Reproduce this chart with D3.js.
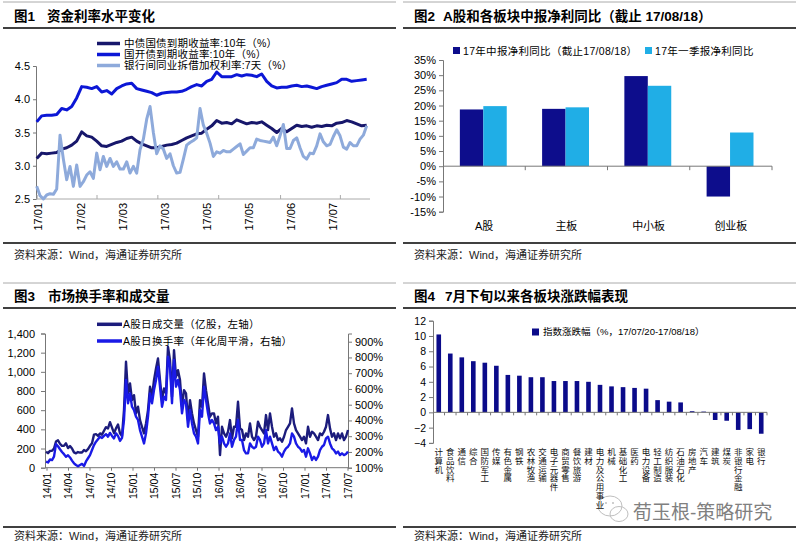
<!DOCTYPE html>
<html><head><meta charset="utf-8">
<script src="https://cdn.jsdelivr.net/npm/d3@7"></script>
<style>
body{margin:0;background:#fff;}
svg{display:block;}
text{font-family:"Liberation Sans","Noto Sans CJK SC",sans-serif;fill:#000;}
</style></head><body>
<svg id="c" width="798" height="545"></svg>
<script>
// ---------- Panel 1 data ----------
const p1Names = ["中债国债到期收益率:10年（%）","国开债到期收益率:10年（%）","银行间同业拆借加权利率:7天（%）"];
const p1TickLabels = ["17/01","17/02","17/03","17/03","17/05","17/05","17/06","17/07"];
const govYield = [3.11,3.19,3.18,3.19,3.2,3.25,3.27,3.31,3.37,3.51,3.45,3.43,3.37,3.3,3.29,3.32,3.35,3.37,3.41,3.43,3.37,3.33,3.3,3.27,3.27,3.29,3.31,3.32,3.34,3.38,3.42,3.45,3.48,3.49,3.55,3.6,3.68,3.64,3.65,3.63,3.69,3.66,3.63,3.65,3.64,3.66,3.61,3.56,3.5,3.56,3.51,3.56,3.61,3.59,3.6,3.58,3.6,3.59,3.61,3.6,3.64,3.65,3.68,3.66,3.63,3.6,3.61];
const cdbYield = [3.66,3.75,3.76,3.76,3.77,3.86,3.84,3.89,4.02,4.19,4.18,4.16,4.19,4.11,4.13,4.08,4.16,4.2,4.23,4.24,4.16,4.14,4.12,4.1,4.06,4.09,4.1,4.11,4.11,4.12,4.15,4.19,4.22,4.2,4.27,4.3,4.41,4.34,4.34,4.34,4.37,4.35,4.37,4.36,4.34,4.38,4.27,4.2,4.17,4.18,4.18,4.2,4.21,4.19,4.2,4.18,4.16,4.19,4.21,4.23,4.25,4.3,4.3,4.27,4.28,4.29,4.3];
const interbank7d = [2.69,2.55,2.5,2.56,2.58,2.57,2.65,3.46,3.1,2.79,2.99,2.69,3.01,2.69,2.76,2.86,2.91,2.81,3.19,2.94,3.14,2.99,3.11,2.99,3.06,2.95,2.95,3.06,2.89,2.99,2.89,3.24,3.4,3.7,3.89,3.5,3.18,3.3,3.25,3.11,3.18,3.0,2.89,2.9,3.1,3.31,3.35,3.38,3.42,3.86,3.61,3.49,3.34,3.14,3.21,3.19,3.23,3.21,3.21,3.25,3.29,3.33,3.17,3.22,3.27,3.27,3.4,3.38,3.37,3.36,3.35,3.43,3.3,3.45,3.62,3.26,3.26,3.38,3.42,3.27,3.14,3.1,3.19,3.18,3.3,3.48,3.36,3.3,3.32,3.44,3.54,3.45,3.28,3.25,3.35,3.3,3.3,3.4,3.46,3.6];

// ---------- Panel 2 data ----------
const p2Cats = ["A股","主板","中小板","创业板"];
const p2Names = ["17年中报净利同比（截止17/08/18）","17年一季报净利同比"];
const p2Mid = [18.7, 18.9, 29.7, -10.0];
const p2Q1 = [19.8, 19.4, 26.5, 11.1];

// ---------- Panel 3 data ----------
const p3Names = ["A股日成交量（亿股，左轴）","A股日换手率（年化周平滑，右轴）"];
const p3TickLabels = ["14/01","14/04","14/07","14/10","15/01","15/04","15/07","15/10","16/01","16/04","16/07","16/10","17/01","17/04","17/07"];
const volume = [167,152,175,176,200,273,286,250,228,228,254,205,226,200,160,150,163,158,158,184,172,193,228,254,345,350,332,358,345,385,423,410,475,418,360,410,450,360,330,
601,1105,775,879,705,757,566,636,497,427,358,462,601,844,740,914,1035,1139,914,705,827,775,1261,1122,740,1226,948,1018,914,636,809,775,497,705,566,462,393,323,705,636,983,809,670,532,566,566,462,532,132,427,358,323,375,497,306,427,427,688,410,393,288,358,323,462,323,288,323,479,427,393,358,549,393,566,427,323,358,288,306,271,323,393,427,462,618,462,393,358,323,288,323,254,427,323,375,358,323,288,358,340,375,427,549,410,323,358,288,358,306,358,288,323,393];
const turnover = [138,133,152,148,170,250,236,217,200,186,170,179,165,145,128,117,109,117,124,111,140,160,180,212,244,265,281,297,289,302,313,297,321,302,286,318,302,270,290,
403,657,509,572,487,466,424,403,339,297,254,318,424,572,509,593,657,741,614,487,551,530,805,741,509,784,614,657,593,445,530,509,360,466,381,318,297,254,466,424,614,530,445,381,403,381,339,360,254,297,254,233,254,318,233,276,297,403,276,276,212,191,191,254,233,223,233,297,276,233,254,339,254,297,254,212,233,202,191,170,202,223,233,254,318,297,254,233,223,202,212,170,223,191,149,170,149,170,212,233,244,286,297,254,223,212,191,202,180,191,180,187,202];

// ---------- Panel 4 data ----------
const p4Name = "指数涨跌幅（%，17/07/20-17/08/18）";
const p4Cats = ["计算机","食品饮料","通信","综合","国防军工","传媒","有色金属","钢铁","农林牧渔","交通运输","电子元器件","商贸零售","餐饮旅游","建材","电力及公用事业","机械","基础化工","医药","电力设备","轻工制造","纺织服装","石油石化","房地产","汽车","建筑","煤炭","非银行金融","家电","银行"];
const p4Vals = [10.2,7.7,7.2,6.7,6.5,6.1,4.9,4.8,4.6,4.6,4.1,4.1,4.1,4.0,3.6,3.4,3.3,3.2,3.1,1.6,1.4,1.3,0.15,0.1,-1.0,-1.1,-2.3,-2.2,-2.8];

const svg = d3.select("#c");
const AX = "#777";

function frame(x0, x1, yTop, yTitle, yRule, yBot, ySrc, num, title, titleX) {
  svg.append("line").attr("x1",x0).attr("x2",x1).attr("y1",yTop).attr("y2",yTop).attr("stroke","#aaa").attr("stroke-width",1);
  svg.append("text").attr("x",x0+11).attr("y",yTitle).text(num).style("font-weight","bold").style("font-size","13.5px");
  svg.append("text").attr("x",titleX).attr("y",yTitle).text(title).style("font-weight","bold").style("font-size","13.5px");
  svg.append("line").attr("x1",x0).attr("x2",x1).attr("y1",yRule).attr("y2",yRule).attr("stroke","#000").attr("stroke-width",1.5);
  svg.append("line").attr("x1",x0).attr("x2",x1).attr("y1",yBot).attr("y2",yBot).attr("stroke","#000").attr("stroke-width",1.5);
  svg.append("text").attr("x",x0+11).attr("y",ySrc).text("资料来源：Wind，海通证券研究所").style("font-size","11px").style("fill","#222");
}
function styleAxis(g, fs){
  g.select(".domain").attr("stroke",AX);
  g.selectAll(".tick line").attr("stroke",AX);
  g.selectAll("text").style("font-size",fs).style("fill","#000");
}

frame(3, 396, 2, 21, 28, 243, 259, "图1", "资金利率水平变化", 47);
frame(403, 796, 2, 21, 28, 243, 259, "图2", "A股和各板块中报净利同比（截止 17/08/18）", 443);
frame(3, 396, 283, 301, 308, 527, 540, "图3", "市场换手率和成交量", 48);
frame(403, 796, 283, 301, 308, 527, 540, "图4", "7月下旬以来各板块涨跌幅表现", 445);

// ================= Panel 1 =================
(function(){
  const y = d3.scaleLinear().domain([2.5,4.5]).range([199,66]);
  const xl = d3.scalePoint().domain(d3.range(p1TickLabels.length)).range([38,333]);
  const day = d3.scaleLinear().domain([0,160]).range([36.7,366.7]);
  const ya = svg.append("g").attr("transform","translate(36,0)")
    .call(d3.axisLeft(y).tickValues([2.5,3.0,3.5,4.0,4.5]).tickFormat(d3.format(".1f")).tickSize(3));
  styleAxis(ya,"11px");
  svg.append("line").attr("x1",36).attr("x2",370).attr("y1",199).attr("y2",199).attr("stroke","#aaa");
  const tk = svg.append("g").attr("transform","translate(0,199)")
    .call(d3.axisTop(day).tickValues([0,29,58.5,88,118,147]).tickFormat("").tickSize(4));
  tk.select(".domain").remove(); tk.selectAll("line").attr("stroke","#aaa");
  const xa = svg.append("g").attr("transform","translate(0,199)")
    .call(d3.axisBottom(xl).tickFormat(i=>p1TickLabels[i]).tickSize(0));
  xa.select(".domain").remove();
  xa.selectAll("text").attr("transform","rotate(-90)").attr("text-anchor","end")
    .attr("x",-4).attr("y",0).attr("dy","0.35em").style("font-size","11px");
  const series = [
    {v:govYield, c:"#17176b", w:3},
    {v:cdbYield, c:"#0c17d6", w:3},
    {v:interbank7d, c:"#8eaadb", w:3}
  ];
  series.forEach(s=>{
    const x = d3.scaleLinear().domain([0,s.v.length-1]).range([36.7,366.7]);
    svg.append("path").datum(s.v).attr("fill","none").attr("stroke",s.c).attr("stroke-width",s.w)
      .attr("stroke-linejoin","round")
      .attr("d", d3.line().x((d,i)=>x(i)).y(d=>y(d)));
  });
  const ly = d3.scalePoint().domain(d3.range(3)).range([43.5,65.5]);
  p1Names.forEach((n,i)=>{
    svg.append("line").attr("x1",97).attr("x2",120).attr("y1",ly(i)).attr("y2",ly(i))
      .attr("stroke",series[i].c).attr("stroke-width",3.5);
    svg.append("text").attr("x",124).attr("y",ly(i)).attr("dy","0.35em").text(n)
      .style("font-size","10.5px").style("letter-spacing","0.2px");
  });
})();

// ================= Panel 2 =================
(function(){
  const y = d3.scaleLinear().domain([-15,35]).range([211.7,60]);
  const x = d3.scaleBand().domain(p2Cats).range([443,772]);
  const bw = x.bandwidth();
  const x1 = d3.scaleBand().domain([0,1]).range([bw*0.205,bw*0.775]);
  const cols = ["#0d0d8c","#20aee6"];
  const ya = svg.append("g").attr("transform","translate(443,0)")
    .call(d3.axisLeft(y).tickValues(d3.range(-15,36,5)).tickFormat(d=>d+"%").tickSize(4));
  styleAxis(ya,"11px");
  [p2Mid,p2Q1].forEach((vals,k)=>{
    svg.selectAll(null).data(vals).enter().append("rect")
      .attr("x",(d,i)=>x(p2Cats[i])+x1(k)).attr("width",x1.bandwidth())
      .attr("y",d=>y(Math.max(0,d))).attr("height",d=>Math.abs(y(d)-y(0)))
      .attr("fill",cols[k]);
  });
  svg.append("line").attr("x1",443).attr("x2",772).attr("y1",y(0)).attr("y2",y(0)).attr("stroke",AX);
  p2Cats.forEach(c=>{
    svg.append("line").attr("x1",x(c)+bw).attr("x2",x(c)+bw).attr("y1",y(0)).attr("y2",y(0)+4).attr("stroke",AX);
    svg.append("text").attr("x",x(c)+bw/2).attr("y",230).attr("text-anchor","middle").text(c).style("font-size","11px");
  });
  const lx = [453, 645];
  p2Names.forEach((n,k)=>{
    svg.append("rect").attr("x",lx[k]).attr("y",47).attr("width",7).attr("height",7).attr("fill",cols[k]);
    svg.append("text").attr("x",lx[k]+10).attr("y",51).attr("dy","0.35em").text(n)
      .style("font-size","10.5px").style("letter-spacing","0.3px");
  });
})();

// ================= Panel 3 =================
(function(){
  const yl = d3.scaleLinear().domain([0,1400]).range([467.7,333.5]);
  const yr = d3.scaleLinear().domain([1,9.52]).range([467.7,333.5]);
  const xl = d3.scalePoint().domain(d3.range(p3TickLabels.length)).range([46.5,347.5]);
  const la = svg.append("g").attr("transform","translate(45,0)")
    .call(d3.axisLeft(yl).tickValues(d3.range(0,1401,200)).tickFormat(d3.format(",")).tickSize(4));
  styleAxis(la,"11px"); la.selectAll("text").attr("x",-10);
  const ra = svg.append("g").attr("transform","translate(348,0)")
    .call(d3.axisRight(yr).tickValues(d3.range(1,10)).tickFormat(d=>(d*100)+"%").tickSize(4));
  styleAxis(ra,"11px");
  const xa = svg.append("g").attr("transform","translate(0,467.7)")
    .call(d3.axisBottom(xl).tickFormat(i=>p3TickLabels[i]).tickSize(3));
  styleAxis(xa,"10.5px");
  xa.select(".domain").remove();
  svg.append("line").attr("x1",45).attr("x2",348).attr("y1",467.7).attr("y2",467.7).attr("stroke",AX);
  xa.selectAll("text").attr("transform","rotate(-90)").attr("text-anchor","end")
    .attr("x",-5).attr("y",0).attr("dy","0.35em");
  const cols = ["#1c1c7c","#1a1ae6"];
  const ly = [324.3, 341];
  p3Names.forEach((n,k)=>{
    svg.append("line").attr("x1",97).attr("x2",122).attr("y1",ly[k]).attr("y2",ly[k]).attr("stroke",cols[k]).attr("stroke-width",3.5);
    svg.append("text").attr("x",123).attr("y",ly[k]).attr("dy","0.35em").text(n)
      .style("font-size","10.5px").style("letter-spacing","0.3px");
  });
  const xv = d3.scaleLinear().domain([0,volume.length-1]).range([46,348]);
  const xt = d3.scaleLinear().domain([0,turnover.length-1]).range([46,348]);
  svg.append("path").datum(volume).attr("fill","none").attr("stroke",cols[0]).attr("stroke-width",2.4)
    .attr("stroke-linejoin","round").attr("d",d3.line().x((d,i)=>xv(i)).y(d=>yl(d)));
  svg.append("path").datum(turnover).attr("fill","none").attr("stroke",cols[1]).attr("stroke-width",2.4)
    .attr("stroke-linejoin","round").attr("d",d3.line().x((d,i)=>xt(i)).y(d=>yr(d/100)));
})();

// ================= Panel 4 =================
(function(){
  const y = d3.scaleLinear().domain([-4,12]).range([442.9,320.7]);
  const x = d3.scaleBand().domain(p4Cats).range([433,767]).paddingInner(0.6).paddingOuter(0.3);
  const ya = svg.append("g").attr("transform","translate(433,0)")
    .call(d3.axisLeft(y).tickValues(d3.range(-4,13,2)).tickSize(4));
  styleAxis(ya,"10.5px");
  svg.selectAll(null).data(p4Vals).enter().append("rect")
    .attr("x",(d,i)=>x(p4Cats[i])).attr("width",x.bandwidth())
    .attr("y",d=>y(Math.max(0,d))).attr("height",d=>Math.max(0.8,Math.abs(y(d)-y(0))))
    .attr("fill","#0b0b8a");
  svg.append("line").attr("x1",433).attr("x2",767).attr("y1",y(0)).attr("y2",y(0)).attr("stroke",AX);
  const step = x.step();
  // watermark icon (behind labels)
  const wm = svg.append("g").attr("opacity",0.75);
  wm.append("ellipse").attr("cx",610).attr("cy",506).attr("rx",12).attr("ry",10).attr("fill","none").attr("stroke","#aaa");
  wm.append("ellipse").attr("cx",619).attr("cy",514).attr("rx",9).attr("ry",7.5).attr("fill","none").attr("stroke","#aaa");
  wm.append("circle").attr("cx",606).attr("cy",503).attr("r",1).attr("fill","#aaa");
  wm.append("circle").attr("cx",613).attr("cy",503).attr("r",1).attr("fill","#aaa");
  p4Cats.forEach((c,i)=>{
    const bx = 433 + step*(i+1);
    svg.append("line").attr("x1",bx).attr("x2",bx).attr("y1",y(0)).attr("y2",y(0)+3).attr("stroke",AX);
    const cx = x(c)+x.bandwidth()/2;
    const t = svg.append("text").attr("text-anchor","middle").style("font-size","8.5px").style("fill","#111");
    [...c].forEach((g,m)=>{
      t.append("tspan").attr("x",cx).attr("y",455+m*8.8).text(g);
    });
  });
  svg.append("rect").attr("x",532).attr("y",328.5).attr("width",7).attr("height",7).attr("fill","#0b0b8a");
  svg.append("text").attr("x",543).attr("y",332).attr("dy","0.35em").text(p4Name).style("font-size","9.5px");
  svg.append("text").attr("x",633).attr("y",519).text("荀玉根-策略研究")
    .style("font-size","19px").style("fill","#808080");
})();
</script>
</body></html>
